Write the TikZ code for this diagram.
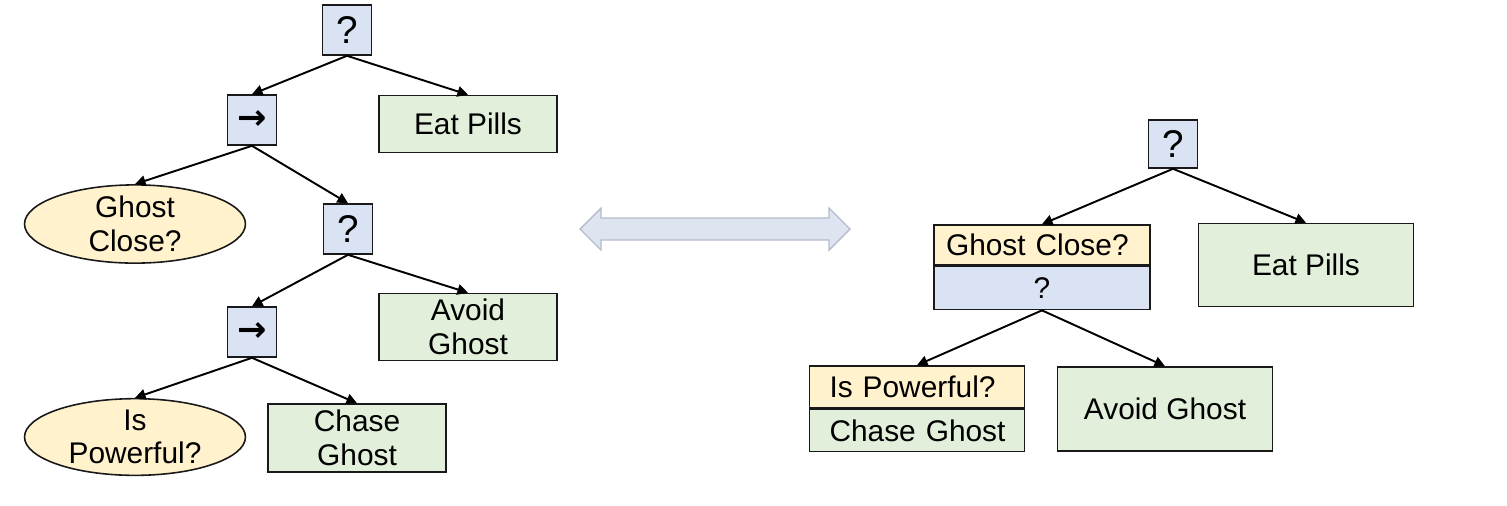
\documentclass[tikz,border=0pt]{standalone}
\usepackage{fontspec}
\setmainfont{Liberation Sans}
\newfontfamily\arrowfont{DejaVu Sans}
\usetikzlibrary{positioning,shapes.geometric,arrows.meta}

\definecolor{ctrlblue}{HTML}{DAE3F3}
\definecolor{taskgreen}{HTML}{E2EFDA}
\definecolor{condyellow}{HTML}{FFF2CC}
\definecolor{swapfill}{HTML}{DEE4F0}
\definecolor{swapline}{HTML}{B4BCCB}

\newcommand{\seqmark}{{\arrowfont\bfseries\fontsize{20}{22}\selectfont →}}

\begin{document}
\begin{tikzpicture}[
    x=0.02cm, y=-0.02cm,
    every node/.style={
        draw=black!90,
        line width=0.9pt,
        inner sep=0pt,
        font=\fontsize{17}{19}\selectfont
    },
    ctrl/.style={fill=ctrlblue, minimum width=0.98cm, minimum height=1cm, font=\fontsize{22}{24}\selectfont},
    task/.style={fill=taskgreen, align=center, minimum width=3.56cm},
    bigtask/.style={fill=taskgreen, align=center, minimum width=4.3cm},
    cond/.style={ellipse, fill=condyellow, align=center, minimum width=4.42cm, minimum height=1.34cm},
    part/.style={inner xsep=0.2cm, text width=3.9cm, minimum height=0.84cm},
    arrow/.style={-{Triangle[length=6pt,width=6pt]}, line width=1.1pt}
]
\useasboundingbox (0,0) rectangle (1507,505);

% Left tree
\node[ctrl] (rootL) at (347,30) {?};
\node[ctrl] (seqL) at (252,120) {\seqmark};
\node[task, minimum height=1.14cm] (eatL) at (468,124) {Eat Pills};
\node[cond] (closeL) at (135,224) {Ghost\\Close?};
\node[ctrl] (selL) at (348,229) {?};
\node[task, minimum height=1.34cm] (avoidL) at (468,327) {Avoid\\Ghost};
\node[ctrl] (seqL2) at (252,332) {\seqmark};
\node[cond] (powerL) at (135,437) {Is\\Powerful?};
\node[task, minimum height=1.36cm] (chaseL) at (357,438) {Chase\\Ghost};

\draw[arrow] (rootL.south) -- (seqL.north);
\draw[arrow] (rootL.south) -- (eatL.north);
\draw[arrow] (seqL.south) -- (closeL.north);
\draw[arrow] (seqL.south) -- (selL.north);
\draw[arrow] (selL.south) -- (seqL2.north);
\draw[arrow] (selL.south) -- (avoidL.north);
\draw[arrow] (seqL2.south) -- (powerL.north);
\draw[arrow] (seqL2.south) -- (chaseL.north);

% Double arrow between the trees
\draw[swapline, fill=swapfill, line width=0.8pt]
    (580,229) -- (601,208) -- (601,218) -- (829,218) -- (829,208) -- (850,229)
    -- (829,250) -- (829,240) -- (601,240) -- (601,250) -- cycle;

% Right tree
\node[ctrl, minimum height=0.96cm] (rootR) at (1173,144) {?};
\node[part, fill=condyellow, inner xsep=0.24cm, text width=3.84cm, minimum height=0.8cm, align=left] (closeR) at (1042,245) {Ghost Close?};
\node[part, fill=ctrlblue, inner xsep=0.24cm, text width=3.84cm, minimum height=0.86cm, align=center, below=0pt of closeR] (selR) {?};
\node[bigtask, minimum height=1.66cm] (eatR) at (1306,265) {Eat Pills};
\node[part, fill=condyellow, align=left] (powerR) at (917,387) {\hspace*{0.2cm}Is Powerful?};
\node[part, fill=taskgreen, align=left, below=0pt of powerR] (chaseR) {\hspace*{0.2cm}Chase Ghost};
\node[bigtask, minimum height=1.68cm] (avoidR) at (1165,409) {Avoid Ghost};

\draw[arrow] (rootR.south) -- (closeR.north);
\draw[arrow] (rootR.south) -- (eatR.north);
\draw[arrow] (selR.south) -- (powerR.north);
\draw[arrow] (selR.south) -- (avoidR.north);

\end{tikzpicture}
\end{document}
